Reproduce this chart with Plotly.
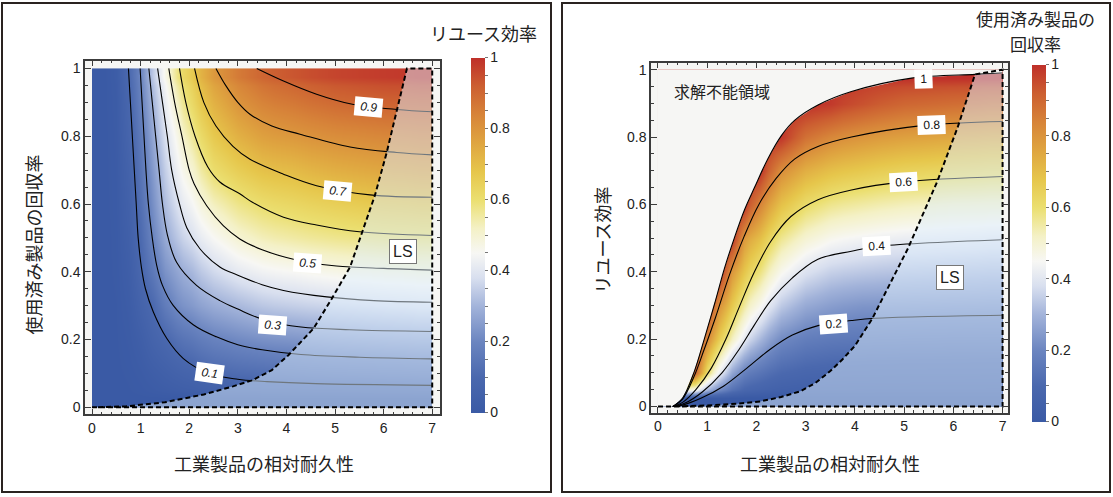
import plotly.graph_objects as go

FONT = "Liberation Sans, Noto Sans CJK JP, sans-serif"
JP = "Noto Sans CJK JP, sans-serif"
W, H = 1113, 497

# grid nodes shared by both panels
durability = [0, 0.25, 0.5, 0.75, 1.0, 1.25, 1.5, 1.75, 2.0, 2.5, 3.0, 3.5, 4.0, 5.0, 6.0, 7.0]
levels = [0, 0.1, 0.2, 0.3, 0.4, 0.5, 0.6, 0.7, 0.8, 0.9, 1.0]

# left panel: reuse efficiency, one row per recovery rate in `levels`
reuse_eff = [
    [0, 0, 0, 0, 0, 0, 0, 0, 0, 0, 0, 0, 0, 0, 0, 0],
    [0, 0, 0.001, 0.005, 0.015, 0.03, 0.045, 0.06, 0.075, 0.102, 0.115, 0.122, 0.127, 0.135, 0.14, 0.145],
    [0, 0, 0.002, 0.012, 0.035, 0.07, 0.097, 0.13, 0.155, 0.19, 0.21, 0.225, 0.235, 0.25, 0.26, 0.268],
    [0, 0, 0.003, 0.02, 0.065, 0.105, 0.17, 0.215, 0.245, 0.285, 0.31, 0.335, 0.35, 0.365, 0.378, 0.387],
    [0, 0, 0.005, 0.03, 0.095, 0.16, 0.23, 0.27, 0.31, 0.37, 0.41, 0.435, 0.45, 0.47, 0.483, 0.49],
    [0, 0, 0.006, 0.04, 0.11, 0.2, 0.28, 0.335, 0.385, 0.45, 0.50, 0.53, 0.55, 0.57, 0.585, 0.59],
    [0, 0, 0.008, 0.05, 0.13, 0.225, 0.32, 0.385, 0.444, 0.525, 0.575, 0.605, 0.625, 0.65, 0.67, 0.68],
    [0, 0, 0.01, 0.06, 0.147, 0.25, 0.35, 0.43, 0.50, 0.606, 0.655, 0.69, 0.705, 0.735, 0.755, 0.765],
    [0, 0, 0.012, 0.075, 0.165, 0.275, 0.384, 0.467, 0.56, 0.67, 0.73, 0.77, 0.79, 0.815, 0.83, 0.84],
    [0, 0, 0.015, 0.085, 0.19, 0.305, 0.42, 0.52, 0.62, 0.73, 0.80, 0.84, 0.865, 0.895, 0.91, 0.915],
    [0, 0, 0.02, 0.10, 0.205, 0.345, 0.465, 0.578, 0.665, 0.79, 0.86, 0.905, 0.935, 0.965, 0.98, 0.99],
]

# right panel: recovery rate, one row per reuse efficiency in `levels`
recovery = [
    [0, 0, 0, 0, 0, 0, 0, 0, 0, 0, 0, 0, 0, 0, 0, 0],
    [1, 1, 1, 0.91, 0.61, 0.42, 0.27, 0.187, 0.146, 0.105, 0.088, 0.081, 0.078, 0.076, 0.075, 0.074],
    [1, 1, 1, 1, 0.83, 0.655, 0.52, 0.41, 0.31, 0.213, 0.176, 0.163, 0.156, 0.152, 0.149, 0.148],
    [1, 1, 1, 1, 1, 0.80, 0.67, 0.557, 0.46, 0.34, 0.28, 0.254, 0.236, 0.233, 0.229, 0.226],
    [1, 1, 1, 1, 1, 1, 0.79, 0.68, 0.587, 0.46, 0.39, 0.354, 0.339, 0.327, 0.32, 0.315],
    [1, 1, 1, 1, 1, 1, 1, 0.79, 0.70, 0.57, 0.50, 0.46, 0.44, 0.422, 0.414, 0.405],
    [1, 1, 1, 1, 1, 1, 1, 1, 0.84, 0.69, 0.611, 0.572, 0.55, 0.529, 0.516, 0.512],
    [1, 1, 1, 1, 1, 1, 1, 1, 1, 0.815, 0.735, 0.695, 0.67, 0.642, 0.63, 0.621],
    [1, 1, 1, 1, 1, 1, 1, 1, 1, 0.99, 0.88, 0.83, 0.797, 0.77, 0.753, 0.744],
    [1, 1, 1, 1, 1, 1, 1, 1, 1, 1, 1, 0.984, 0.943, 0.903, 0.887, 0.875],
    [1, 1, 1, 1, 1, 1, 1, 1, 1, 1, 1, 1, 1, 1, 1, 1],
]

# left contour lines (durability, recovery) for reuse efficiency 0.1 ... 0.9
L1_d = [0.75, 0.79, 0.83, 0.87, 0.91, 0.95, 1.02, 1.10, 1.26, 1.54, 1.88, 2.41, 3.0, 3.6, 4.6, 7.0]
L1_r = [1.0, 0.9, 0.8, 0.7, 0.6, 0.5, 0.41, 0.35, 0.282, 0.203, 0.144, 0.10, 0.083, 0.076, 0.07, 0.065]
L2_d = [0.99, 1.03, 1.07, 1.11, 1.16, 1.24, 1.33, 1.45, 1.67, 2.09, 2.56, 3.0, 3.5, 4.3, 5.5, 7.0]
L2_r = [1.0, 0.9, 0.8, 0.7, 0.6, 0.5, 0.42, 0.36, 0.301, 0.243, 0.208, 0.185, 0.17, 0.156, 0.148, 0.143]
L3_d = [1.17, 1.24, 1.31, 1.38, 1.45, 1.55, 1.74, 2.15, 2.63, 3.0, 3.6, 4.3, 5.3, 7.0]
L3_r = [1.0, 0.9, 0.8, 0.7, 0.6, 0.51, 0.428, 0.36, 0.315, 0.29, 0.255, 0.237, 0.229, 0.224]
L4_d = [1.35, 1.45, 1.55, 1.64, 1.80, 1.95, 2.22, 2.63, 3.0, 3.5, 3.94, 4.83, 5.8, 7.0]
L4_r = [1.0, 0.9, 0.8, 0.7, 0.6, 0.53, 0.468, 0.414, 0.39, 0.362, 0.345, 0.326, 0.315, 0.31]
L5_d = [1.58, 1.70, 1.85, 2.0, 2.1, 2.36, 2.70, 3.04, 3.5, 4.0, 4.43, 5.03, 6.0, 7.0]
L5_r = [1.0, 0.9, 0.8, 0.7, 0.66, 0.595, 0.536, 0.497, 0.465, 0.442, 0.428, 0.417, 0.41, 0.405]
L6_d = [1.80, 1.93, 2.12, 2.38, 2.63, 3.04, 3.3, 3.94, 4.62, 5.5, 7.0]
L6_r = [1.0, 0.9, 0.8, 0.71, 0.665, 0.63, 0.605, 0.561, 0.538, 0.518, 0.507]
L7_d = [2.11, 2.3, 2.55, 2.9, 3.25, 3.94, 4.62, 5.72, 7.0]
L7_r = [1.0, 0.9, 0.83, 0.77, 0.732, 0.688, 0.654, 0.627, 0.62]
L8_d = [2.55, 2.75, 3.0, 3.25, 3.7, 4.28, 5.31, 6.27, 7.0]
L8_r = [1.0, 0.95, 0.9, 0.865, 0.83, 0.806, 0.768, 0.752, 0.745]
L9_d = [3.39, 3.94, 4.62, 5.31, 6.27, 7.0]
L9_r = [1.0, 0.963, 0.924, 0.896, 0.879, 0.872]

# right contour lines (durability, reuse efficiency) for recovery 0.2 ... 1
R2_d = [0.3, 0.5, 0.87, 1.33, 1.8, 2.28, 2.73, 3.25, 3.93, 4.41, 7.0]
R2_e = [0.0, 0.004, 0.024, 0.06, 0.113, 0.17, 0.212, 0.24, 0.255, 0.262, 0.271]
R4_d = [0.3, 0.55, 0.9, 1.3, 1.65, 1.95, 2.29, 2.73, 3.25, 3.93, 4.44, 7.0]
R4_e = [0.0, 0.01, 0.043, 0.1, 0.17, 0.24, 0.314, 0.382, 0.437, 0.461, 0.475, 0.495]
R6_d = [0.3, 0.5, 0.77, 1.08, 1.38, 1.65, 1.95, 2.29, 2.7, 3.25, 3.93, 4.98, 7.0]
R6_e = [0.0, 0.012, 0.05, 0.113, 0.2, 0.295, 0.397, 0.49, 0.564, 0.614, 0.643, 0.667, 0.683]
R8_d = [0.3, 0.5, 0.73, 0.93, 1.17, 1.45, 1.75, 2.05, 2.4, 2.78, 3.25, 3.93, 5.36, 7.0]
R8_e = [0.0, 0.022, 0.088, 0.166, 0.265, 0.39, 0.505, 0.6, 0.677, 0.735, 0.772, 0.80, 0.834, 0.846]
R10_d = [0.3, 0.5, 0.74, 0.94, 1.15, 1.35, 1.55, 1.76, 1.96, 2.23, 2.51, 2.78, 3.25, 3.93, 5.15, 6.44, 7.0]
R10_e = [0.0, 0.025, 0.105, 0.2, 0.305, 0.41, 0.5, 0.585, 0.65, 0.735, 0.805, 0.85, 0.895, 0.935, 0.975, 0.986, 0.99]

# LS region boundaries
LS_left_d = [0.0, 0.7, 1.5, 2.3, 2.9, 3.3, 3.7, 4.04, 4.56, 4.93, 5.31, 5.55, 5.82, 6.06, 6.27, 6.48]
LS_left_r = [0.0, 0.003, 0.015, 0.038, 0.062, 0.08, 0.11, 0.154, 0.233, 0.32, 0.414, 0.516, 0.625, 0.75, 0.875, 1.0]
LS_right_d = [0.3, 1.0, 1.6, 2.08, 2.5, 2.89, 3.2, 3.5, 3.75, 4.0, 4.35, 4.7, 5.08, 5.67, 6.09, 6.44]
LS_right_e = [0.0, 0.003, 0.008, 0.015, 0.028, 0.045, 0.07, 0.105, 0.14, 0.18, 0.26, 0.36, 0.47, 0.667, 0.83, 0.986]

cb_ticks = [0, 0.05, 0.1, 0.15, 0.2, 0.25, 0.3, 0.35, 0.4, 0.45, 0.5,
            0.55, 0.6, 0.65, 0.7, 0.75, 0.8, 0.85, 0.9, 0.95, 1.0]
cb_text = ["0", "", "", "", "0.2", "", "", "", "0.4", "", "", "",
           "0.6", "", "", "", "0.8", "", "", "", "1"]

TEMP = [
    [0.00, "#3a5aa5"], [0.10, "#4a68ae"], [0.20, "#6b85c0"], [0.30, "#a2b3da"],
    [0.38, "#d8dfef"], [0.45, "#f7f7f4"], [0.52, "#f4f1c6"], [0.60, "#ebdf70"],
    [0.68, "#e6c64b"], [0.76, "#dfa540"], [0.84, "#d78439"], [0.92, "#cc5f31"],
    [1.00, "#bf302a"],
]
BG = "#f6f6f4"
VEIL = "rgba(222,238,252,0.5)"


def edges(nodes):
    # brick edges so the smoothed image spans exactly the data range
    mids = [(a + b) / 2 for a, b in zip(nodes[:-1], nodes[1:])]
    return [nodes[0]] + mids + [nodes[-1]]


def colorbar(left_px, top_px, bottom_px):
    return dict(
        x=left_px / W, xanchor="left", xpad=0,
        y=1 - (top_px + bottom_px) / 2 / H, yanchor="middle", ypad=0,
        len=bottom_px - top_px, lenmode="pixels",
        thickness=14, thicknessmode="pixels", outlinewidth=0,
        ticks="outside", ticklen=3, tickcolor="#777",
        tickvals=cb_ticks, ticktext=cb_text,
        tickfont=dict(family=FONT, size=14, color="#222"),
    )


def line(xs, ys, xa, ya, width=1.1):
    return go.Scatter(x=xs, y=ys, xaxis=xa, yaxis=ya, mode="lines",
                      line=dict(color="black", width=width, shape="spline"),
                      hoverinfo="skip", showlegend=False)


def dashed(xs, ys, xa, ya):
    return go.Scatter(x=xs, y=ys, xaxis=xa, yaxis=ya, mode="lines",
                      line=dict(color="black", width=2, dash="5px,3px"),
                      hoverinfo="skip", showlegend=False)


def patch(xs, ys, xa, ya, color):
    return go.Scatter(x=xs, y=ys, xaxis=xa, yaxis=ya, mode="lines", fill="toself",
                      fillcolor=color, line=dict(width=0), hoverinfo="skip",
                      showlegend=False)


fig = go.Figure()

# ---- left panel
fig.add_trace(go.Heatmap(
    x=edges(durability), y=edges(levels), z=reuse_eff, zsmooth="best",
    colorscale=TEMP, zmin=0, zmax=1, xaxis="x", yaxis="y", hoverinfo="skip",
    colorbar=colorbar(471, 58, 413),
))
for xs, ys in [(L1_d, L1_r), (L2_d, L2_r), (L3_d, L3_r), (L4_d, L4_r), (L5_d, L5_r),
               (L6_d, L6_r), (L7_d, L7_r), (L8_d, L8_r), (L9_d, L9_r)]:
    fig.add_trace(line(xs, ys, "x", "y"))
fig.add_trace(patch(LS_left_d + [7, 7], LS_left_r + [1, 0], "x", "y", VEIL))
fig.add_trace(dashed([0, 7, 7] + LS_left_d[::-1], [0, 0, 1] + LS_left_r[::-1], "x", "y"))

# ---- right panel
fig.add_trace(go.Heatmap(
    x=edges(durability), y=edges(levels), z=recovery, zsmooth="best",
    colorscale=TEMP, zmin=0, zmax=1, xaxis="x2", yaxis="y2", hoverinfo="skip",
    colorbar=colorbar(1032, 65, 422),
))
fig.add_trace(patch([0] + R10_d + [7, 0], [0] + R10_e + [1, 1], "x2", "y2", BG))
for xs, ys in [(R2_d, R2_e), (R4_d, R4_e), (R6_d, R6_e), (R8_d, R8_e), (R10_d, R10_e)]:
    fig.add_trace(line(xs, ys, "x2", "y2"))
fig.add_trace(patch(LS_right_d + [7, 7], LS_right_e + [0.99, 0], "x2", "y2", VEIL))
fig.add_trace(dashed([0, 7, 7] + LS_right_d[::-1], [0, 0, 1] + LS_right_e[::-1], "x2", "y2"))


def frame_axis(domain, rng, dtick, minor, anchor):
    return dict(
        domain=domain, range=rng, anchor=anchor, tick0=0, dtick=dtick,
        showline=True, linecolor="#3c3c3c", linewidth=1.5, mirror="ticks",
        ticks="inside", ticklen=6, tickwidth=1, tickcolor="#3c3c3c",
        minor=dict(dtick=minor, ticks="inside", ticklen=3, tickcolor="#3c3c3c"),
        showgrid=False, zeroline=False,
        tickfont=dict(family=FONT, size=14, color="#222"),
    )


def px_x(a, b):
    return [a / W, b / W]


def px_y(top, bottom):
    return [1 - bottom / H, 1 - top / H]


fig.update_layout(
    width=W, height=H, margin=dict(l=0, r=0, t=0, b=0),
    paper_bgcolor="white", plot_bgcolor=BG, showlegend=False,
    font=dict(family=FONT, color="#222"),
    xaxis=frame_axis(px_x(85, 440), [-0.144, 7.16], 1, 0.2, "y"),
    yaxis=frame_axis(px_y(60, 416), [-0.021, 1.023], 0.2, 0.05, "x"),
    xaxis2=frame_axis(px_x(651, 1008), [-0.142, 7.11], 1, 0.2, "y2"),
    yaxis2=frame_axis(px_y(62, 414), [-0.018, 1.021], 0.2, 0.05, "x2"),
)

# panel boxes
for x0, x1 in [(2, 551), (562, 1110)]:
    fig.add_shape(type="rect", xref="paper", yref="paper",
                  x0=x0 / W, x1=x1 / W, y0=1 - 494 / H, y1=1 - 2 / H,
                  line=dict(color="#2a2320", width=2), fillcolor="rgba(0,0,0,0)")


def text(t, x, y, size=18, angle=0):
    fig.add_annotation(text=t, x=x / W, y=1 - y / H, xref="paper", yref="paper",
                       xanchor="center", yanchor="middle", showarrow=False,
                       textangle=angle, font=dict(family=JP, size=size, color="#222"))


text("リユース効率", 483, 32)
text("使用済み製品の", 1035, 18, size=17)
text("回収率", 1035, 43, size=17)
text("使用済み製品の回収率", 33, 245, angle=-90)
text("リユース効率", 602, 241, angle=-90)
text("工業製品の相対耐久性", 264, 465)
text("工業製品の相対耐久性", 830, 465)


def tag(t, x, y, xa, ya, angle, italic=False):
    body = f"<i>{t}</i>" if italic else t
    fig.add_annotation(text=f"&nbsp;{body}&nbsp;", x=x, y=y, xref=xa, yref=ya,
                       xanchor="center", yanchor="middle", showarrow=False,
                       textangle=angle, bgcolor="white", borderpad=2,
                       font=dict(family=FONT, size=12, color="#111"))


for t, x, y, a in [("0.1", 2.41, 0.10, 8), ("0.3", 3.71, 0.242, 4), ("0.5", 4.43, 0.426, 4),
                   ("0.7", 5.05, 0.637, 5), ("0.9", 5.69, 0.887, 5)]:
    tag(t, x, y, "x", "y", a, italic=True)
for t, x, y, a in [("0.2", 3.56, 0.245, -4), ("0.4", 4.44, 0.476, -3), ("0.6", 4.98, 0.666, -3),
                   ("0.8", 5.55, 0.835, -2), ("1", 5.39, 0.972, -2)]:
    tag(t, x, y, "x2", "y2", a)

for x, y, xa, ya in [(6.40, 0.459, "x", "y"), (5.93, 0.383, "x2", "y2")]:
    fig.add_annotation(text="LS", x=x, y=y, xref=xa, yref=ya, showarrow=False,
                       xanchor="center", yanchor="middle",
                       bgcolor="white", bordercolor="#777", borderwidth=1, borderpad=3,
                       font=dict(family=FONT, size=16, color="#222"))

fig.add_annotation(text="求解不能領域", x=1.30, y=0.937, xref="x2", yref="y2",
                   xanchor="center", yanchor="middle", showarrow=False,
                   font=dict(family=JP, size=16, color="#222"))

# the page body has a default 8px margin; drop it so the figure fills the window
fig.write_html("out.html", config={"displayModeBar": False},
               post_script="document.body.style.margin='0';")
